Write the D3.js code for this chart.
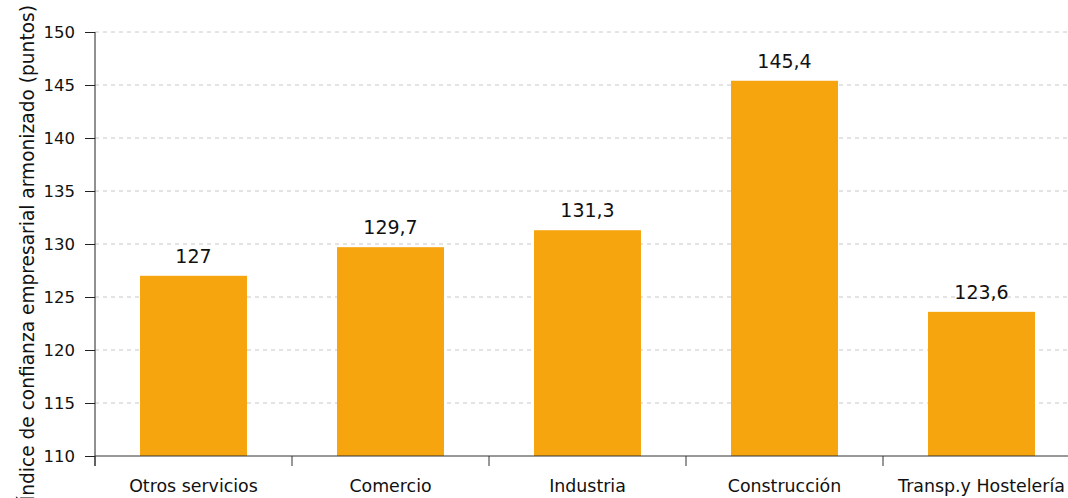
<!DOCTYPE html>
<html><head><meta charset="utf-8">
<script src="https://cdn.jsdelivr.net/npm/d3@7"></script>
<style>body{margin:0;background:#fff}svg{display:block}</style>
</head><body>
<script>
const categories = ["Otros servicios","Comercio","Industria","Construcción","Transp.y Hostelería"];
const values = [127,129.7,131.3,145.4,123.6];
const yTicks = [110,115,120,125,130,135,140,145,150];
const yTitle = "Índice de confianza empresarial armonizado (puntos)";

const W=1068,H=498;
const font="'DejaVu Sans', sans-serif";
const svg=d3.select("body").append("svg").attr("width",W).attr("height",H);
const x=d3.scaleBand().domain(categories).range([95,1080]).paddingInner(0.457).paddingOuter(0.2285);
const y=d3.scaleLinear().domain([110,150]).range([456,32]);

// grid
svg.append("g").selectAll("line").data(yTicks.filter(d=>d>110)).join("line")
 .attr("x1",95).attr("x2",W).attr("y1",d=>y(d)).attr("y2",d=>y(d))
 .attr("stroke","#c8c8c8").attr("stroke-dasharray","4,4");

// bars
svg.append("g").selectAll("rect").data(values).join("rect")
 .attr("x",(d,i)=>x(categories[i])).attr("width",x.bandwidth())
 .attr("y",d=>y(d)).attr("height",d=>y(110)-y(d)).attr("fill","#F6A50E");

// labels
svg.append("g").selectAll("text").data(values).join("text")
 .attr("x",(d,i)=>x(categories[i])+x.bandwidth()/2).attr("y",d=>y(d)-13)
 .attr("text-anchor","middle").attr("font-family",font).attr("font-size",19).attr("fill","#111")
 .text(d=>String(d).replace(".",","));

// y axis
const ya=svg.append("g").attr("transform","translate(95,0)")
 .call(d3.axisLeft(y).tickValues(yTicks).tickSize(10).tickPadding(10));
ya.select(".domain").attr("stroke","#222").attr("d","M0,32V466");
ya.selectAll(".tick line").attr("stroke","#222");
ya.selectAll("text").attr("font-family",font).attr("font-size",16.5).attr("fill","#111");

// x axis
const xl=d3.scaleLinear().domain([0,5]).range([95,1080]);
svg.append("line").attr("x1",95).attr("x2",W).attr("y1",456).attr("y2",456).attr("stroke","#333");
svg.append("g").selectAll("line").data(d3.range(0,5)).join("line")
 .attr("x1",d=>xl(d)).attr("x2",d=>xl(d)).attr("y1",456).attr("y2",466).attr("stroke","#333");
svg.append("g").selectAll("text").data(categories).join("text")
 .attr("x",d=>x(d)+x.bandwidth()/2).attr("y",492).attr("text-anchor","middle")
 .attr("font-family",font).attr("font-size",17.4).attr("fill","#111").text(d=>d);

// y title
svg.append("text").attr("transform","translate(34,5) rotate(-90)").attr("text-anchor","end")
 .attr("font-family",font).attr("font-size",18.6).attr("fill","#111").text(yTitle);
</script>
</body></html>
